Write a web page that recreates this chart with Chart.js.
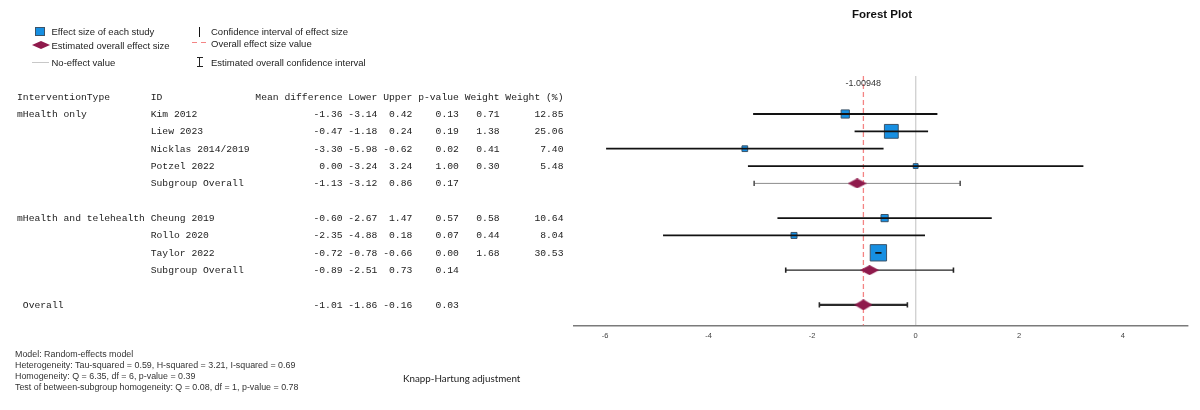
<!DOCTYPE html>
<html><head><meta charset="utf-8">
<script src="https://cdn.jsdelivr.net/npm/chart.js@4.4.1/dist/chart.umd.min.js"></script>
<style>
html,body{margin:0;padding:0;background:#fff;}
#wrap{position:relative;width:1200px;height:410px;overflow:hidden;background:#fff;}
#c{position:absolute;left:0;top:0;width:1200px;height:410px;}
.t{position:absolute;white-space:pre;color:#222;}
.mono{font-family:"Liberation Mono","DejaVu Sans Mono",monospace;font-size:9.7px;line-height:12px;height:12px;}
.sans{font-family:"Liberation Sans",Arial,sans-serif;}
.ic{position:absolute;box-sizing:border-box;}
</style></head>
<body><div id="wrap"><canvas id="c" width="1200" height="410"></canvas></div>
<script>
// ---------------- data ----------------
const groups = ['mHealth only', 'mHealth and telehealth'];
const studyIds = ['Kim 2012', 'Liew 2023', 'Nicklas 2014/2019', 'Potzel 2022', 'Cheung 2019', 'Rollo 2020', 'Taylor 2022'];
const studyGroup = [0, 0, 0, 0, 1, 1, 1];
const studyMD = [-1.36, -0.47, -3.30, 0.00, -0.60, -2.35, -0.72];
const studyLower = [-3.14, -1.18, -5.98, -3.24, -2.67, -4.88, -0.78];
const studyUpper = [0.42, 0.24, -0.62, 3.24, 1.47, 0.18, -0.66];
const studyP = [0.13, 0.19, 0.02, 1.00, 0.57, 0.07, 0.00];
const studyWeight = [0.71, 1.38, 0.41, 0.30, 0.58, 0.44, 1.68];
const studyWeightPct = [12.85, 25.06, 7.40, 5.48, 10.64, 8.04, 30.53];
const subgroupLabel = 'Subgroup Overall';
const subgroupMD = [-1.13, -0.89];
const subgroupLower = [-3.12, -2.51];
const subgroupUpper = [0.86, 0.73];
const subgroupP = [0.17, 0.14];
const overallLabel = 'Overall';
const overallMD = -1.01;
const overallLower = -1.86;
const overallUpper = -0.16;
const overallP = 0.03;
const overallEffect = -1.00948;
const noEffect = 0;
const xTicks = [-6, -4, -2, 0, 2, 4];
const headers = ['InterventionType', 'ID', 'Mean difference', 'Lower', 'Upper', 'p-value', 'Weight', 'Weight (%)'];
const titleText = 'Forest Plot';
const legendLabels = ['Effect size of each study', 'Estimated overall effect size', 'No-effect value',
  'Confidence interval of effect size', 'Overall effect size value', 'Estimated overall confidence interval'];
const footnotes = ['Model: Random-effects model',
  'Heterogeneity: Tau-squared = 0.59, H-squared = 3.21, I-squared = 0.69',
  'Homogeneity: Q = 6.35, df = 6, p-value = 0.39',
  'Test of between-subgroup homogeneity: Q = 0.08, df = 1, p-value = 0.78'];
const adjustmentNote = 'Knapp-Hartung adjustment';

// ---------------- row layout ----------------
const studyRow = [], subRow = [];
let k = 1;
groups.forEach((g, gi) => {
  studyIds.forEach((id, i) => { if (studyGroup[i] === gi) studyRow[i] = k++; });
  subRow[gi] = k++;
  k++;
});
const overallRow = k;
const yMin = -1.19, yMax = 13.19;

// ---------------- styles ----------------
const BLUE = '#168fe2', BLUE_EDGE = '#3b5368', MAROON = '#8f1a4c', RED = 'rgba(242,110,110,0.85)';
function diamondImg(w, h) {
  const c = document.createElement('canvas');
  c.width = w; c.height = h;
  const g = c.getContext('2d');
  g.fillStyle = MAROON;
  g.beginPath(); g.moveTo(w / 2, 0); g.lineTo(w, h / 2); g.lineTo(w / 2, h); g.lineTo(0, h / 2); g.closePath(); g.fill();
  return c;
}
const diaSub = diamondImg(19, 10), diaAll = diamondImg(18, 11);
const boxSide = w => 3.3 + 0.46 * w;

// ---------------- datasets ----------------
const studyCI = [];
studyLower.forEach((lo, i) => { studyCI.push({x: lo, y: studyRow[i]}, {x: studyUpper[i], y: studyRow[i]}, {x: null, y: null}); });
const summaryPts = subgroupMD.map((v, g) => ({x: v, y: subRow[g]})).concat([{x: overallMD, y: overallRow}]);
const ciStyle = [
  {line: '#8c8c8c', cap: '#555', w: 1},
  {line: '#222', cap: '#222', w: 1.2},
  {line: '#2a2a2a', cap: '#2a2a2a', w: 2.2}
];
const sumLo = subgroupLower.concat([overallLower]), sumUp = subgroupUpper.concat([overallUpper]);
const sumRows = subRow.concat([overallRow]);
const summaryCI = sumLo.map((lo, j) => ({
  type: 'scatter', order: 4, showLine: true,
  data: [{x: lo, y: sumRows[j]}, {x: sumUp[j], y: sumRows[j]}],
  borderColor: ciStyle[j].line, borderWidth: ciStyle[j].w,
  pointStyle: 'line', pointRotation: 90, pointRadius: 2.6,
  pointBorderColor: ciStyle[j].cap, pointBorderWidth: 1.6
}));

const datasets = [
  {type: 'scatter', order: 0, data: summaryPts,
    pointStyle: ctx => ctx.dataIndex === 2 ? diaAll : diaSub, pointRadius: 8},
  {type: 'scatter', order: 1, showLine: true, spanGaps: false, data: studyCI,
    borderColor: '#121212', borderWidth: 1.8, pointRadius: 0},
  {type: 'scatter', order: 2, data: studyMD.map((v, i) => ({x: v, y: studyRow[i]})),
    pointStyle: 'rect', backgroundColor: BLUE, borderColor: BLUE_EDGE, pointBorderWidth: 1,
    pointRadius: ctx => (boxSide(studyWeightPct[ctx.dataIndex]) - 1) / Math.SQRT2},
  ...summaryCI,
  {type: 'scatter', order: 9, showLine: true, data: [{x: overallEffect, y: yMin}, {x: overallEffect, y: yMax}],
    borderColor: RED, borderWidth: 1.3, borderDash: [5, 3], pointRadius: 0}
];

const chart = new Chart(document.getElementById('c'), {
  type: 'scatter',
  data: {datasets},
  options: {
    responsive: false, animation: false, events: [],
    layout: {padding: {left: 574, right: 10, top: 0, bottom: 0}},
    plugins: {
      legend: {display: false}, tooltip: {enabled: false},
      title: {display: true, text: titleText, color: '#111',
        font: {family: 'Liberation Sans', size: 11.5, weight: 'bold'}, padding: {top: 8, bottom: 54.2}}
    },
    scales: {
      x: {type: 'linear', min: -6.6, max: 5.25,
        afterBuildTicks: s => { s.ticks = xTicks.map(v => ({value: v})); },
        afterFit: s => { s.height = 84.5; },
        ticks: {font: {family: 'Liberation Sans', size: 7.5}, color: '#444', padding: 6},
        grid: {drawTicks: false, lineWidth: 1.4,
          color: ctx => (ctx.tick && ctx.tick.value === noEffect) ? '#d2d2d2' : 'rgba(0,0,0,0)'},
        border: {display: true, color: '#7a7a7a', width: 1.5}
      },
      y: {type: 'linear', display: false, reverse: true, min: yMin, max: yMax}
    }
  }
});

// ---------------- text overlay ----------------
const wrap = document.getElementById('wrap');
function addText(txt, x, yc, cls, css) {
  const d = document.createElement('div');
  d.className = 't ' + cls;
  d.textContent = txt;
  if (css) Object.assign(d.style, css);
  wrap.appendChild(d);
  const h = d.offsetHeight;
  d.style.left = x + 'px';
  d.style.top = (yc - h / 2) + 'px';
  return d;
}
function addIcon(x, y, w, h, css) {
  const d = document.createElement('div');
  d.className = 'ic';
  Object.assign(d.style, {left: x + 'px', top: y + 'px', width: w + 'px', height: h + 'px'}, css || {});
  wrap.appendChild(d);
}
const ys = chart.scales.y, xs = chart.scales.x;
const f2 = v => v.toFixed(2);
function row(c1, c2, md, lo, up, p, w, wp) {
  return c1.padEnd(23) + c2.padEnd(18) + md.padStart(15) + ' ' + lo.padStart(5) + ' ' + up.padStart(5) + ' ' +
    p.padStart(7) + ' ' + w.padStart(6) + ' ' + wp.padStart(10);
}
const TX = 17, TY = 1;
addText(row(...headers), TX, ys.getPixelForValue(0) + TY, 'mono');
studyIds.forEach((id, i) => {
  const first = studyGroup.indexOf(studyGroup[i]) === i;
  addText(row(first ? groups[studyGroup[i]] : '', id, f2(studyMD[i]), f2(studyLower[i]), f2(studyUpper[i]),
    f2(studyP[i]), f2(studyWeight[i]), f2(studyWeightPct[i])), TX, ys.getPixelForValue(studyRow[i]) + TY, 'mono');
});
subgroupMD.forEach((v, g) => {
  addText(row('', subgroupLabel, f2(v), f2(subgroupLower[g]), f2(subgroupUpper[g]), f2(subgroupP[g]), '', ''),
    TX, ys.getPixelForValue(subRow[g]) + TY, 'mono');
});
addText(row(' ' + overallLabel, '', f2(overallMD), f2(overallLower), f2(overallUpper), f2(overallP), '', ''),
  TX, ys.getPixelForValue(overallRow) + TY, 'mono');

// overall effect value label
const lab = addText(String(overallEffect), 0, ys.top + 7, 'sans', {fontSize: '9px', color: '#333'});
lab.style.left = (xs.getPixelForValue(overallEffect) - lab.offsetWidth / 2) + 'px';

// legend
const LF = {fontSize: '9.5px', color: '#222'};
addIcon(35, 27, 10, 9, {background: BLUE, border: '1px solid ' + BLUE_EDGE});
addText(legendLabels[0], 51.5, 31, 'sans', LF);
addIcon(32, 41, 18, 8, {background: MAROON, clipPath: 'polygon(50% 0,100% 50%,50% 100%,0 50%)'});
addText(legendLabels[1], 51.5, 45, 'sans', LF);
addIcon(32, 62, 17, 1, {background: '#c8c8c8'});
addText(legendLabels[2], 51.5, 62.5, 'sans', LF);
addIcon(198.5, 26.5, 1.6, 10, {background: '#111'});
addText(legendLabels[3], 211, 31, 'sans', LF);
addIcon(192, 41.5, 5, 1.2, {background: RED});
addIcon(201, 41.5, 5, 1.2, {background: RED});
addText(legendLabels[4], 211, 43, 'sans', LF);
addIcon(198.9, 57, 1.2, 10, {background: '#222'});
addIcon(196.5, 57, 6, 1.2, {background: '#222'});
addIcon(196.5, 65.8, 6, 1.2, {background: '#222'});
addText(legendLabels[5], 211, 62.5, 'sans', LF);

// footnotes
const FY = [353.5, 365, 376, 387];
footnotes.forEach((t, i) => addText(t, 15, FY[i], 'sans', {fontSize: '8.9px', color: '#333'}));
addText(adjustmentNote, 403, 378, '', {fontFamily: 'Lato, "Open Sans", sans-serif', fontSize: '9.8px', color: '#222'});
</script>
</body></html>
